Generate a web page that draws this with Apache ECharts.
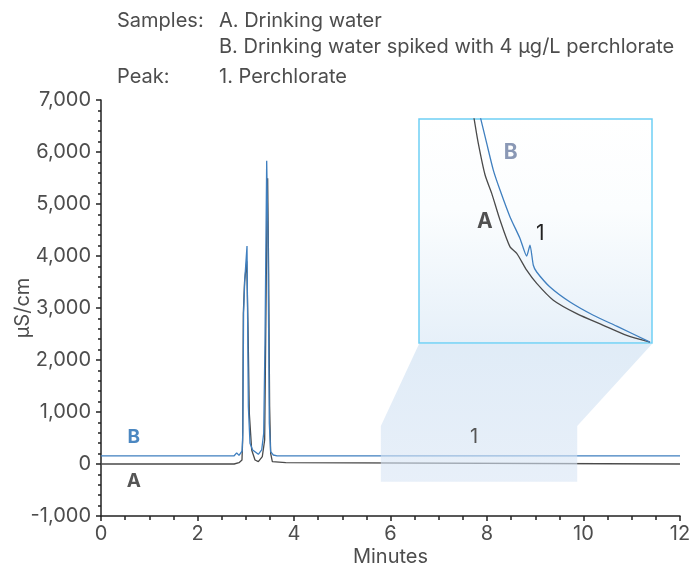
<!DOCTYPE html>
<html>
<head>
<meta charset="utf-8">
<script src="https://cdn.jsdelivr.net/npm/echarts@6/dist/echarts.min.js"></script>
<style>
  html, body { margin: 0; padding: 0; background: #fff; }
  #chart { width: 694px; height: 565px; }
</style>
</head>
<body>
<div id="chart"></div>
<script>
// sample A: drinking water (minutes, µS/cm)
var timeA = [0, 2.76, 2.80, 2.86, 2.90, 2.922, 2.936, 2.95, 2.975, 3.02, 3.03, 3.047, 3.074, 3.123, 3.192, 3.261, 3.343, 3.392, 3.413, 3.440, 3.454, 3.475, 3.495, 3.516, 3.551, 3.83, 3.86, 12];
var valA  = [0, 0, 20, 25, 15, 77, 462, 2900, 3500, 3900, 3910, 2641, 974, 270, 77, 45, 141, 462, 2385, 4949, 5494, 3667, 1103, 205, 45, 25, 0, 0];

// sample B: spiked with 4 µg/L perchlorate
var timeB = [0, 2.76, 2.812, 2.86, 2.90, 2.925, 2.94, 2.955, 2.98, 3.026, 3.054, 3.088, 3.143, 3.261, 3.330, 3.372, 3.399, 3.434, 3.461, 3.488, 3.516, 3.571, 3.65, 12];
var valB  = [155, 158, 215, 165, 175, 250, 620, 2900, 3550, 4192, 1103, 397, 270, 186, 270, 590, 2385, 5833, 4308, 782, 237, 173, 155, 155];

// magnified view around peak 1 (relative units, 0-100)
var insetTimeA = [6.697, 6.766, 6.836, 6.953, 7.070, 7.215, 7.390, 7.507, 7.681, 7.856, 8.146, 8.555, 9.019, 9.428, 9.835];
var insetA     = [110, 99.6, 89.1, 75.1, 66.8, 54.9, 42.9, 40.0, 32.5, 26.6, 19.1, 13.1, 7.9, 3.4, 0.4];
var insetTimeB = [6.784, 6.883, 6.983, 7.098, 7.215, 7.390, 7.564, 7.681, 7.739, 7.797, 7.856, 8.088, 8.438, 8.845, 9.253, 9.835];
var insetB     = [110, 99.6, 89.1, 77.2, 68.3, 56.3, 46.7, 38.8, 43.7, 34.7, 31.7, 25.0, 18.3, 12.4, 7.5, 0.4];

var zoomX = [5.8, 9.87];
var zoomY = [-340, 730];
var yTicks = [-1000, 7000, 1000];
var xTicks = [0, 12, 2];

function pairs(t, v) {
    return t.map(function(x, i) { return [x, v[i]]; });
}

var font = 'Inter, "Liberation Sans", Arial, sans-serif';
var textColor = '#4d4d4d';
var colorA = '#4a4a4a';
var colorB = '#3f7fbf';

var chart = echarts.init(document.getElementById('chart'));

var option = {
    backgroundColor: '#fff',
    animation: false,
    textStyle: { fontFamily: font },
    grid: [{
        left: 101, right: 14, top: 100, bottom: 49,
        containLabel: false, outerBoundsMode: 'none'
    }, {
        left: 419, top: 119, width: 233, height: 224,
        containLabel: false, outerBoundsMode: 'none',
        show: true,
        borderColor: '#6fcff5',
        borderWidth: 1.5,
        backgroundColor: new echarts.graphic.LinearGradient(0, 0, 0, 1, [
            { offset: 0, color: '#ffffff' },
            { offset: 0.4, color: '#fbfdfe' },
            { offset: 1, color: '#e6f0f9' }
        ])
    }],
    xAxis: [{
        type: 'value',
        min: xTicks[0], max: xTicks[1], interval: xTicks[2],
        name: 'Minutes',
        nameLocation: 'middle',
        nameGap: 31,
        nameMoveOverlap: false,
        nameTextStyle: { color: textColor, fontSize: 20, fontFamily: font },
        axisLine: { onZero: false, lineStyle: { color: '#222', width: 1.5 } },
        axisTick: { length: 5, lineStyle: { color: '#222', width: 1.5 } },
        minorTick: { show: true, splitNumber: 4, length: 4, lineStyle: { color: '#222', width: 1.5 } },
        axisLabel: { color: textColor, fontSize: 20, margin: 8 },
        splitLine: { show: false }
    }, {
        type: 'value', gridIndex: 1, min: zoomX[0], max: zoomX[1], show: false
    }],
    yAxis: [{
        type: 'value',
        min: yTicks[0], max: yTicks[1], interval: yTicks[2],
        name: 'µS/cm',
        nameLocation: 'middle',
        nameGap: 68,
        nameMoveOverlap: false,
        nameTextStyle: { color: textColor, fontSize: 20, fontFamily: font },
        axisLine: { show: true, lineStyle: { color: '#222', width: 1.5 } },
        axisTick: { show: true, length: 5, lineStyle: { color: '#222', width: 1.5 } },
        minorTick: { show: true, splitNumber: 5, length: 3, lineStyle: { color: '#222', width: 1.5 } },
        axisLabel: {
            color: textColor, fontSize: 20, margin: 10,
            formatter: function(v) { return v.toLocaleString('en-US'); }
        },
        splitLine: { show: false }
    }, {
        type: 'value', gridIndex: 1, min: 0, max: 100, show: false
    }],
    series: [{
        name: 'A', type: 'line', showSymbol: false, symbol: 'none',
        data: pairs(timeA, valA),
        lineStyle: { color: colorA, width: 1.3 }
    }, {
        name: 'B', type: 'line', showSymbol: false, symbol: 'none',
        data: pairs(timeB, valB),
        lineStyle: { color: colorB, width: 1.3 }
    }, {
        name: 'A zoom', type: 'line', xAxisIndex: 1, yAxisIndex: 1, symbol: 'none', clip: true,
        smooth: 0.25,
        data: pairs(insetTimeA, insetA),
        lineStyle: { color: colorA, width: 1.3 }
    }, {
        name: 'B zoom', type: 'line', xAxisIndex: 1, yAxisIndex: 1, symbol: 'none', clip: true,
        smooth: 0.2,
        data: pairs(insetTimeB, insetB),
        lineStyle: { color: colorB, width: 1.3 }
    }]
};

chart.setOption(option);

// overlays: zoom window, connector and labels
var p0 = function(x, y) { return chart.convertToPixel({ gridIndex: 0 }, [x, y]); };
var p1 = function(x, y) { return chart.convertToPixel({ gridIndex: 1 }, [x, y]); };

var boxTL = p0(zoomX[0], zoomY[1]), boxBR = p0(zoomX[1], zoomY[0]);
var inBL = p1(zoomX[0], 0), inBR = p1(zoomX[1], 0);

function txt(x, y, s, size, color, weight, align) {
    return {
        type: 'text', x: x, y: y, z: 10,
        style: {
            text: s, fill: color, fontSize: size, fontFamily: font,
            fontWeight: weight || 'normal', align: align || 'left', verticalAlign: 'middle'
        }
    };
}

var labA = p0(0.68, -330), labB = p0(0.68, 520), lab1 = p0(7.73, 520);
var inLabA = p1(6.95, 54), inLabB = p1(7.40, 85), inLab1 = p1(7.92, 49);

chart.setOption({
    graphic: [{
        type: 'polygon', z: 5, silent: true,
        shape: { points: [
            [inBL[0], inBL[1] + 1], [inBR[0], inBR[1] + 1],
            [boxBR[0], boxTL[1]], [boxBR[0], boxBR[1]],
            [boxTL[0], boxBR[1]], [boxTL[0], boxTL[1]]
        ] },
        style: {
            fill: new echarts.graphic.LinearGradient(0, 0, 0, 1, [
                { offset: 0, color: 'rgba(205,224,242,0.62)' },
                { offset: 1, color: 'rgba(216,229,245,0.6)' }
            ])
        }
    },
    txt(117, 21, 'Samples:', 20, textColor),
    txt(219, 21, 'A. Drinking water', 20, textColor),
    txt(219, 47, 'B. Drinking water spiked with 4 µg/L perchlorate', 20, textColor),
    txt(117, 77, 'Peak:', 20, textColor),
    txt(219, 77, '1. Perchlorate', 20, textColor),
    txt(labB[0], labB[1], 'B', 19, '#4b87c1', 'bold', 'center'),
    txt(labA[0], labA[1], 'A', 19, '#555', 'bold', 'center'),
    txt(lab1[0], lab1[1], '1', 20, '#555', 'normal', 'center'),
    txt(inLabB[0], inLabB[1], 'B', 21, '#8a98b5', 'bold', 'center'),
    txt(inLabA[0], inLabA[1], 'A', 21, '#505050', 'bold', 'center'),
    txt(inLab1[0], inLab1[1], '1', 21, '#222', 'normal', 'center')
    ]
});

window.onresize = function() {
    chart.resize();
};
</script>
</body>
</html>
